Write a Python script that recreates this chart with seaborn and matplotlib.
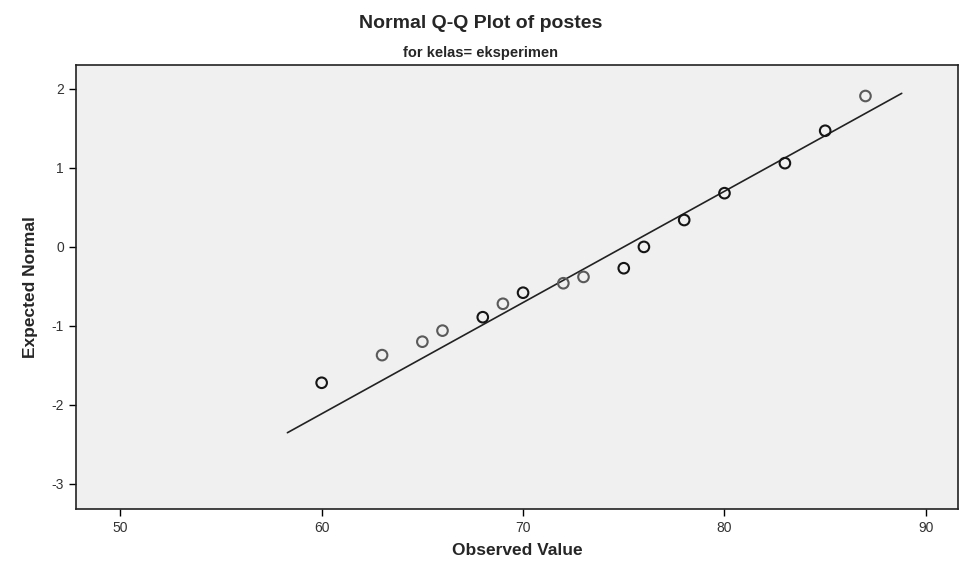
import numpy as np
import pandas as pd
import seaborn as sns
import matplotlib.pyplot as plt

# observed scores and their expected normal values (ties counted)
observed = [60, 63, 65, 66, 68, 69, 70, 72, 73, 75, 76, 78, 80, 83, 85, 87]
expected = [-1.72, -1.37, -1.20, -1.06, -0.89, -0.72, -0.58, -0.46, -0.38,
            -0.27, 0.00, 0.34, 0.68, 1.06, 1.47, 1.91]
ties = [2, 1, 1, 1, 2, 1, 2, 1, 1, 2, 2, 2, 2, 2, 2, 1]

# reference line: normal with this mean / sd
line_mean = 75.0
line_sd = 7.1
line_x = [58.3, 88.8]

x_ticks = [50, 60, 70, 80, 90]
y_ticks = [-3, -2, -1, 0, 1, 2]

sns.set_style("ticks")
plt.rcParams['font.family'] = ['Liberation Sans Narrow', 'Liberation Sans', 'DejaVu Sans']
plt.rcParams['axes.unicode_minus'] = False

df = pd.DataFrame({"obs": observed, "exp": expected, "n": ties})
df["edge"] = np.where(df["n"] > 1, "#151515", "#5a5a5a")

fig = plt.figure(figsize=(9.61, 5.62), dpi=100)
ax = fig.add_axes([0.079, 0.094, 0.918, 0.790])
ax.set_facecolor("#f0f0f0")

line_df = pd.DataFrame({"x": line_x})
line_df["y"] = (line_df["x"] - line_mean) / line_sd
sns.lineplot(data=line_df, x="x", y="y", color="#222222", linewidth=1.2, ax=ax)

sns.scatterplot(data=df, x="obs", y="exp", s=58, facecolor="none",
                edgecolor=df["edge"], linewidth=1.5, ax=ax, zorder=3)

ax.set_xlim(47.8, 91.6)
ax.set_ylim(-3.32, 2.30)
ax.set_xticks(x_ticks)
ax.set_yticks(y_ticks)
ax.tick_params(labelsize=10, colors="#333333", length=5, width=1)
ax.tick_params(axis="both", color="black")
for sp in ax.spines.values():
    sp.set_visible(True)
    sp.set_color("#222222")
    sp.set_linewidth(1.2)

ax.set_xlabel("Observed Value", fontsize=12.5, fontweight="bold", labelpad=6)
ax.set_ylabel("Expected Normal", fontsize=12.5, fontweight="bold", labelpad=10)

fig.text(0.5, 0.958, "Normal Q-Q Plot of postes", ha="center", va="center",
         fontsize=14, fontweight="bold")
fig.text(0.5, 0.905, "for kelas= eksperimen", ha="center", va="center",
         fontsize=10.5, fontweight="bold")

fig.savefig("out.png", dpi=100)
